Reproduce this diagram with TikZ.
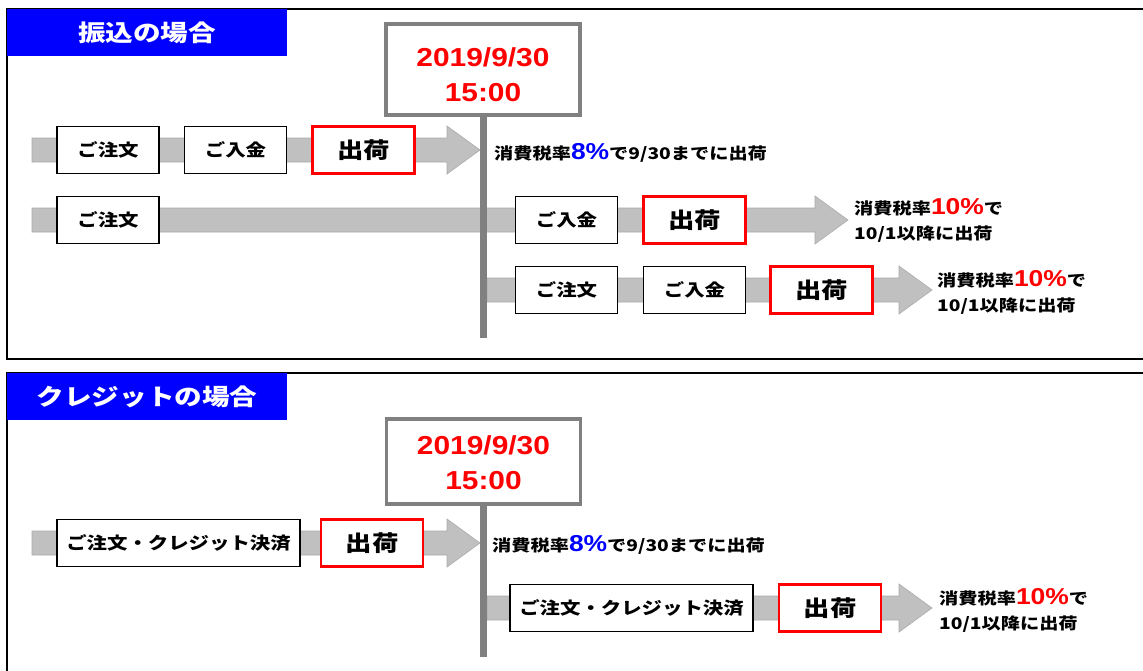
\documentclass[tikz,border=0pt]{standalone}
\usepackage{fontspec}
\setmainfont{Noto Sans CJK JP}[FakeStretch=1.2]
\newfontfamily\numfont{Liberation Sans}[FakeStretch=1.15]
\usetikzlibrary{calc}
\definecolor{bandgray}{RGB}{192,192,192}
\definecolor{bandedge}{RGB}{170,170,170}
\definecolor{polegray}{RGB}{128,128,128}
\newcommand{\bandarrow}[2]{%
  \filldraw[band] let \p1=(#1), \p2=(#2) in
    (\x1,\y1+12pt) -- (\x2-33pt,\y1+12pt) -- (\x2-33pt,\y1+24pt) -- (\x2,\y1)
    -- (\x2-33pt,\y1-24pt) -- (\x2-33pt,\y1-12pt) -- (\x1,\y1-12pt) -- cycle;}
\newcommand{\pct}[2]{{\numfont\bfseries\fontsize{23}{23}\selectfont\color{#1}#2}}

\begin{document}
\begin{tikzpicture}[line cap=butt,line join=miter,x=1pt,y=-1pt,
  frame/.style={draw=black,line width=1.3pt},
  head/.style={fill=blue,text=white,minimum width=280pt,minimum height=47pt,inner sep=0pt,
    font=\bfseries\fontsize{23}{23}\selectfont},
  band/.style={fill=bandgray,draw=bandedge,line width=0.6pt},
  pole/.style={draw=polegray,line width=7pt},
  datebox/.style={draw=polegray,line width=3.5pt,fill=white,minimum width=194pt,inner sep=0pt},
  datetext/.style={align=center,text=red,inner sep=0pt,font=\numfont\bfseries\fontsize{26}{35}\selectfont},
  tbox/.style={draw=black,line width=1.6pt,fill=white,minimum width=102pt,minimum height=47pt,
    inner sep=0pt,font=\bfseries\fontsize{17}{17}\selectfont},
  shipbox/.style={tbox,draw=red,line width=2.2pt,font=\bfseries\fontsize{22}{22}\selectfont},
  note/.style={anchor=west,inner sep=0pt,align=left,font=\bfseries\fontsize{16}{25}\selectfont}]
\useasboundingbox (0,0) rectangle (1143,670);
% frames
\draw[frame] (1150,9) -- (7,9) -- (7,359) -- (1150,359);
\draw[frame] (1150,373) -- (7,373) -- (7,680);
\node[head] (h1) at (147,32.5) {振込の場合};
\node[head] (h2) at (147,396.5) {クレジットの場合};
% gray bands
\coordinate (a1s) at (32,150); \coordinate (a1e) at (480,150);
\coordinate (a2s) at (32,220); \coordinate (a2e) at (848,220);
\coordinate (a3s) at (487,290); \coordinate (a3e) at (932,290);
\coordinate (b1s) at (32,543); \coordinate (b1e) at (480,543);
\coordinate (b2s) at (487,608); \coordinate (b2e) at (932,608);
\foreach \s/\e in {a1s/a1e,a2s/a2e,a3s/a3e,b1s/b1e,b2s/b2e}
  \bandarrow{\s}{\e};
% deadline
\node[datebox,minimum height=91pt,label={[datetext,yshift=-5pt]center:{2019/9/30\\15:00}}] (d1) at (483,69.5) {};
\node[datebox,minimum height=85pt,label={[datetext,yshift=-1.5pt]center:{2019/9/30\\15:00}}] (d2) at (483.5,461.5) {};
\coordinate (p1) at (483,338);
\coordinate (p2) at (483.5,657);
\draw[pole] (d1.south) -- (p1);
\draw[pole] (d2.south) -- (p2);
% transfer
\node[tbox] (o1) at (108,150) {ご注文};
\node[tbox] (m1) at (235.5,150) {ご入金};
\node[shipbox] (s1) at (363.5,150) {出荷};
\node[tbox] (o2) at (108,220) {ご注文};
\node[tbox] (m2) at (566.5,220) {ご入金};
\node[shipbox] (s2) at (694.5,220) {出荷};
\node[tbox] (o3) at (566.5,290) {ご注文};
\node[tbox] (m3) at (694.5,290) {ご入金};
\node[shipbox] (s3) at (821.5,290) {出荷};
\node[note] (n1) at (494,153) {消費税率\pct{blue}{8\%}で9/30までに出荷};
\node[note] (n2) at (854,220) {消費税率\pct{red}{10\%}で\\10/1以降に出荷};
\node[note] (n3) at (937,292) {消費税率\pct{red}{10\%}で\\10/1以降に出荷};
% credit card
\node[tbox,minimum width=243pt] (c1) at (178.5,543) {ご注文・クレジット決済};
\node[shipbox] (t1) at (372,543) {出荷};
\node[tbox,minimum width=243pt] (c2) at (631.5,608) {ご注文・クレジット決済};
\node[shipbox] (t2) at (830,608) {出荷};
\node[note] (k1) at (492,545) {消費税率\pct{blue}{8\%}で9/30までに出荷};
\node[note] (k2) at (939,610) {消費税率\pct{red}{10\%}で\\10/1以降に出荷};
\end{tikzpicture}
\end{document}
